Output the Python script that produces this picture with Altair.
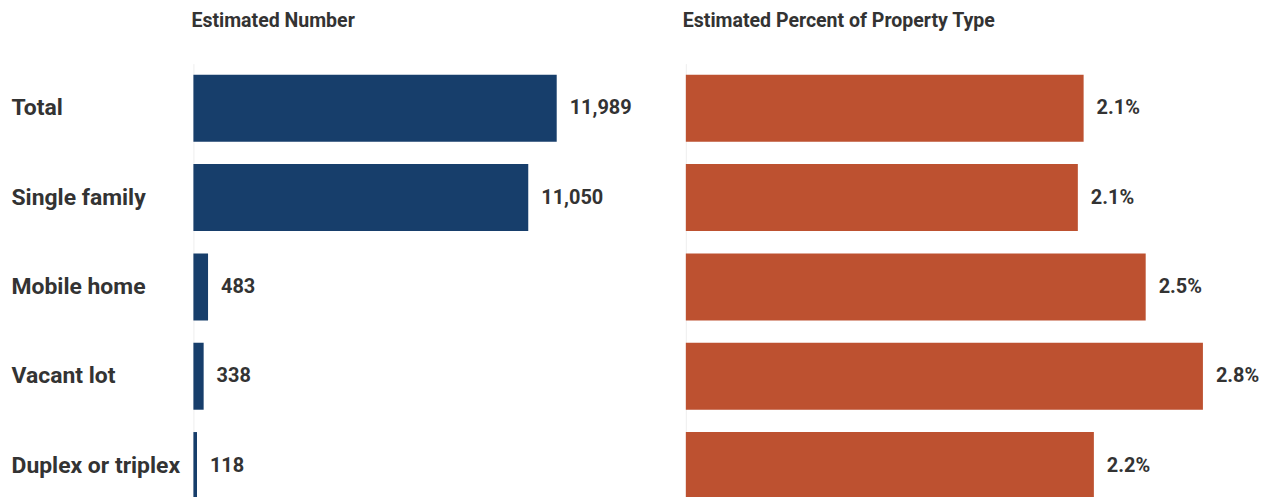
import altair as alt
import pandas as pd

categories = ["Total", "Single family", "Mobile home", "Vacant lot", "Duplex or triplex"]
numbers = [11989, 11050, 483, 338, 118]
percents = [0.02134, 0.02103, 0.02467, 0.02774, 0.02189]

df = pd.DataFrame({"cat": categories, "num": numbers, "pct": percents})

FONT = "Roboto"
TXT = "#333333"
BLUE = "#173e6b"
ORANGE = "#bd5130"

yscale = alt.Scale(paddingInner=0.25, paddingOuter=0.125)

left_base = alt.Chart(df).encode(
    y=alt.Y("cat:N", sort=categories, scale=yscale,
            axis=alt.Axis(title=None, labelAlign="left", labelPadding=183,
                          labelFontSize=23, labelFont=FONT, labelFontWeight="bold",
                          labelColor=TXT, ticks=False, domainColor="#eeeeee",
                          labelLimit=0)),
    x=alt.X("num:Q", scale=alt.Scale(domain=[0, 15000], nice=False), axis=None),
)
left = alt.layer(
    left_base.mark_bar(color=BLUE),
    left_base.mark_text(align="left", baseline="middle", dx=13, fontSize=20,
                        font=FONT, fontWeight="bold", color=TXT).encode(
        text=alt.Text("num:Q", format=",")),
).properties(
    width=456, height={"step": 89.6},
    title=alt.TitleParams("Estimated Number", anchor="start", frame="group",
                          fontSize=19.6, font=FONT, fontWeight="bold", color=TXT,
                          offset=32, dx=-2),
)

right_base = alt.Chart(df).encode(
    y=alt.Y("cat:N", sort=categories, scale=yscale,
            axis=alt.Axis(title=None, labels=False, ticks=False,
                          domainColor="#eeeeee")),
    x=alt.X("pct:Q", scale=alt.Scale(domain=[0, 0.03], nice=False), axis=None),
)
right = alt.layer(
    right_base.mark_bar(color=ORANGE),
    right_base.mark_text(align="left", baseline="middle", dx=13, fontSize=20,
                         font=FONT, fontWeight="bold", color=TXT).encode(
        text=alt.Text("pct:Q", format=".1%")),
).properties(
    width=561, height={"step": 89.6},
    title=alt.TitleParams("Estimated Percent of Property Type", anchor="start",
                          frame="group", fontSize=19.6, font=FONT,
                          fontWeight="bold", color=TXT, offset=32, dx=-3),
)

chart = alt.hconcat(left, right, spacing=35).properties(
    padding={"left": 3, "top": 2, "right": 0, "bottom": 0}
).configure_view(stroke=None)

chart.save("out.html", embed_options={"renderer": "svg", "actions": False})
